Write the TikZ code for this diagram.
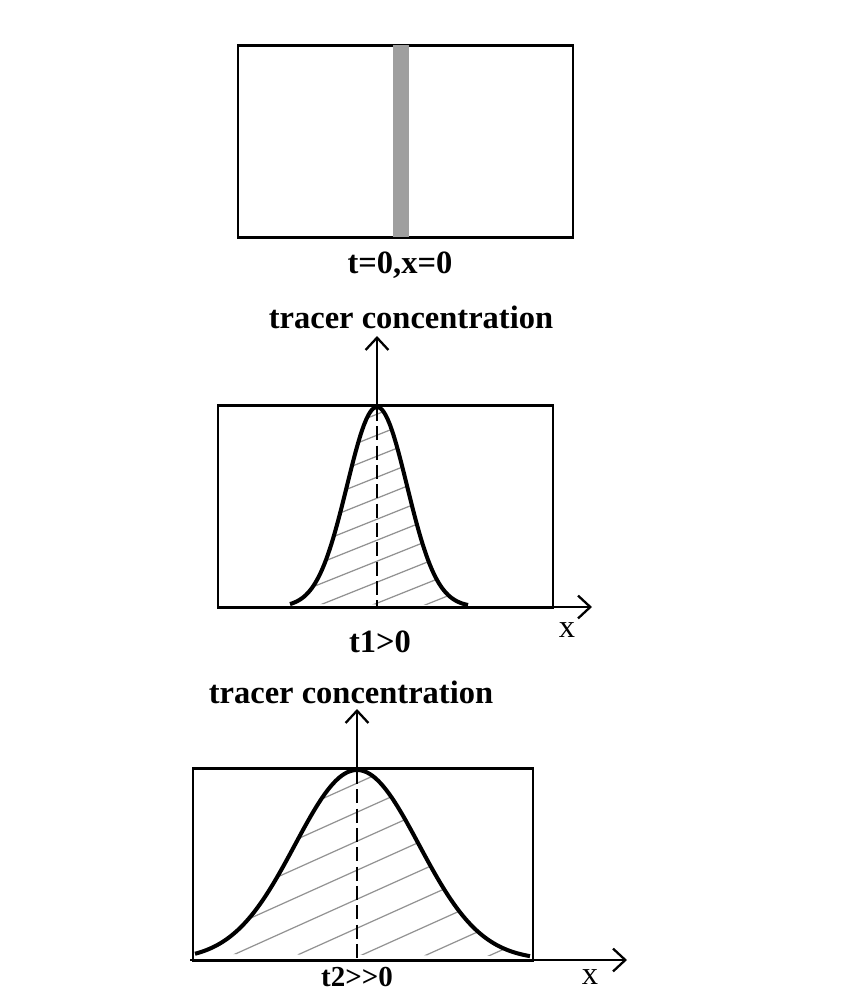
\documentclass[tikz,border=0pt]{standalone}
\usepackage{fontspec}
\setmainfont{Liberation Serif}
\usetikzlibrary{arrows.meta,positioning}

\begin{document}
\begin{tikzpicture}[
  x=0.02cm, y=-0.02cm,
  box/.style={draw, line width=1.7pt},
  axis/.style={line width=1.3pt, -{Straight Barb[length=7pt,width=13pt,line width=1.3pt]}},
  curve/.style={line width=2.3pt},
  hatch/.style={draw=gray!85, line width=0.7pt},
  peakline/.style={line width=1.7pt, dash pattern=on 8pt off 3pt},
  lbl/.style={font=\fontsize{18.5}{20}\selectfont\bfseries},
  xlbl/.style={font=\fontsize{18.5}{20}\selectfont},
]
\useasboundingbox (0,0) rectangle (865,992);

% --- t=0 ---
\draw[box] (238,45) rectangle (573,237);
\fill[gray!75] (393,45) rectangle (409,237);
\node[lbl] (lab0) at (400,265) {t=0,x=0};

% --- t1>0 ---
\def\baseA{607}
\def\sigA{30}
\draw[box] (218,405) rectangle (553,\baseA);
\coordinate (l1) at (218,\baseA);
\coordinate (o1) at (377,\baseA);
\coordinate (p1) at (377,407);
\coordinate (t1) at (377,405);
\coordinate (y1) at (377,336);
\coordinate (x1) at (592,\baseA);
\begin{scope}
  \clip plot[domain=290:468, samples=90] (\x, {\baseA-200*exp(-((\x-377)/\sigA)^2/2)}) -- cycle;
  \foreach \k in {0,...,13}
    \draw[hatch] (290,{407+21*\k}) -- (470,{407+21*\k-72});
\end{scope}
\draw[curve] plot[domain=290:468, samples=90] (\x, {\baseA-200*exp(-((\x-377)/\sigA)^2/2)});
\draw[peakline] (p1) -- (o1);
\draw[axis] (l1) -- (x1);
\draw[axis] (t1) -- (y1);
\node[lbl] (ylab1) at (411,317) {tracer concentration};
\node[lbl] (tlab1) at (380,642) {t1>0};
\node[xlbl] (xlab1) at (567,630) {x};

% --- t2>>0 ---
\def\baseB{960}
\def\sigB{62}
\draw[box] (193,768) rectangle (533,\baseB);
\coordinate (l2) at (190,\baseB);
\coordinate (o2) at (357,\baseB);
\coordinate (p2) at (357,770);
\coordinate (t2) at (357,768);
\coordinate (y2) at (357,709);
\coordinate (x2) at (627,\baseB);
\begin{scope}
  \clip plot[domain=195:530, samples=120] (\x, {\baseB-190*exp(-((\x-357)/\sigB)^2/2)}) -- cycle;
  \foreach \k in {0,...,12}
    \draw[hatch] (193,{770+29*\k}) -- (533,{770+29*\k-153});
\end{scope}
\draw[curve] plot[domain=195:530, samples=120] (\x, {\baseB-190*exp(-((\x-357)/\sigB)^2/2)});
\draw[peakline] (p2) -- (o2);
\draw[axis] (l2) -- (x2);
\draw[axis] (t2) -- (y2);
\node[lbl] (ylab2) at (351,692) {tracer concentration};
\node[lbl, inner sep=0pt, font=\fontsize{16.5}{18}\selectfont\bfseries] (tlab2) at (357,977) {t2>\kern0pt>\kern0pt0};
\node[xlbl, inner sep=0pt] (xlab2) at (590,977) {x};

\end{tikzpicture}
\end{document}
